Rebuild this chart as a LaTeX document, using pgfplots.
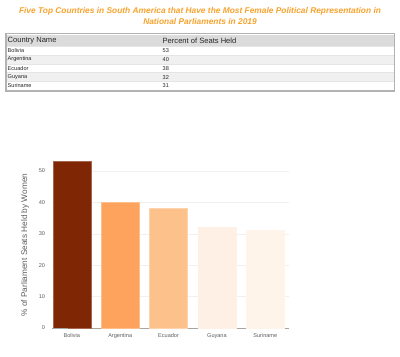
\documentclass[border=0pt]{standalone}
\usepackage{pgfplots}
\pgfplotsset{compat=1.18}
\usepackage{fontspec}
\setmainfont{Liberation Sans}
\definecolor{titleor}{RGB}{247,163,45}
\definecolor{cBol}{RGB}{127,39,4}
\definecolor{cArg}{RGB}{253,163,94}
\definecolor{cEcu}{RGB}{253,194,140}
\definecolor{cGuy}{RGB}{254,240,228}
\definecolor{cSur}{RGB}{255,244,234}
\definecolor{txtgray}{RGB}{95,95,95}
\begin{document}
\begin{tikzpicture}[x=1bp,y=1bp]
\useasboundingbox (0,0) rectangle (400,357);
\fill[white] (0,0) rectangle (400,357);
% title
\node[font=\fontsize{8.4}{12}\selectfont\bfseries\itshape, text=titleor, align=center] at (200,{357-16})
  {Five Top Countries in South America that Have the Most Female Political Representation in\\National Parliaments in 2019};
% table
\fill[gray!60] (5,{357-33}) rectangle (395,{357-92});
\fill[white] (6.5,{357-34.5}) rectangle (393.5,{357-90.5});
\fill[black!14] (6.5,{357-35}) rectangle (393.5,{357-46});
\fill[black!6] (6.5,{357-54.8}) rectangle (393.5,{357-63.8});
\fill[black!6] (6.5,{357-72.6}) rectangle (393.5,{357-81.6});
\foreach \yy in {46,54.8,63.8,72.6,81.6} \draw[black!10,line width=0.4bp] (6.5,{357-\yy}) -- (393.5,{357-\yy});
\begin{scope}[every node/.style={anchor=west,inner sep=0pt,text=black!85}]
\node[font=\fontsize{7.6}{8}\selectfont] at (7.5,{357-40.8}) {Country Name};
\node[font=\fontsize{7.6}{8}\selectfont] at (162.5,{357-40.8}) {Percent of Seats Held};
\foreach \n/\v/\yy in {Bolivia/53/50.4,Argentina/40/59.3,Ecuador/38/68.2,Guyana/32/77.1,Suriname/31/86.0}{
  \node[font=\fontsize{5.6}{6}\selectfont] at (7.5,{357-\yy}) {\n};
  \node[font=\fontsize{5.6}{6}\selectfont] at (162.5,{357-\yy}) {\v};
}
\end{scope}
% chart
\begin{axis}[
  at={(52bp,29bp)}, anchor=south west,
  scale only axis, width=237bp, height=172.7bp,
  xmin=-0.41, xmax=4.49, ymin=0, ymax=55,
  xtick={0,1,2,3,4},
  xticklabels={Bolivia,Argentina,Ecuador,Guyana,Suriname},
  ytick={0,10,20,30,40,50},
  axis x line*=bottom, axis y line*=left,
  x axis line style={black!35,line width=0.8bp,-},
  y axis line style={draw=none},
  major tick length=0pt,
  ymajorgrids, grid style={black!6,line width=0.5bp},
  tick label style={font=\fontsize{5.6}{6.5}\selectfont,text=txtgray},
  xticklabel style={yshift=1.5bp,text height=1.5ex,text depth=0.3ex},
  yticklabel style={xshift=-3.5bp},
  /pgf/number format/assume math mode=true,
  ylabel={\% of Parliament Seats Held by Women},
  every axis y label/.style={at={(axis description cs:-0.114,0.48)},rotate=90,anchor=center,font=\fontsize{8.3}{9}\selectfont,text=txtgray},
  ybar, bar width=38bp, bar shift=0pt,
  clip=false,
]
\addplot[fill=cBol, draw=cBol!70!white, line width=0.5bp] coordinates {(0,53)};
\addplot[fill=cArg, draw=cArg!70!white, line width=0.5bp] coordinates {(1,40)};
\addplot[fill=cEcu, draw=cEcu!70!white, line width=0.5bp] coordinates {(2,38)};
\addplot[fill=cGuy, draw=cGuy, line width=0.5bp] coordinates {(3,32)};
\addplot[fill=cSur, draw=cSur, line width=0.5bp] coordinates {(4,31)};
\draw[black!35,line width=0.8bp] (axis cs:-0.41,0) -- ++(-4bp,0);
\end{axis}
\end{tikzpicture}
\end{document}
